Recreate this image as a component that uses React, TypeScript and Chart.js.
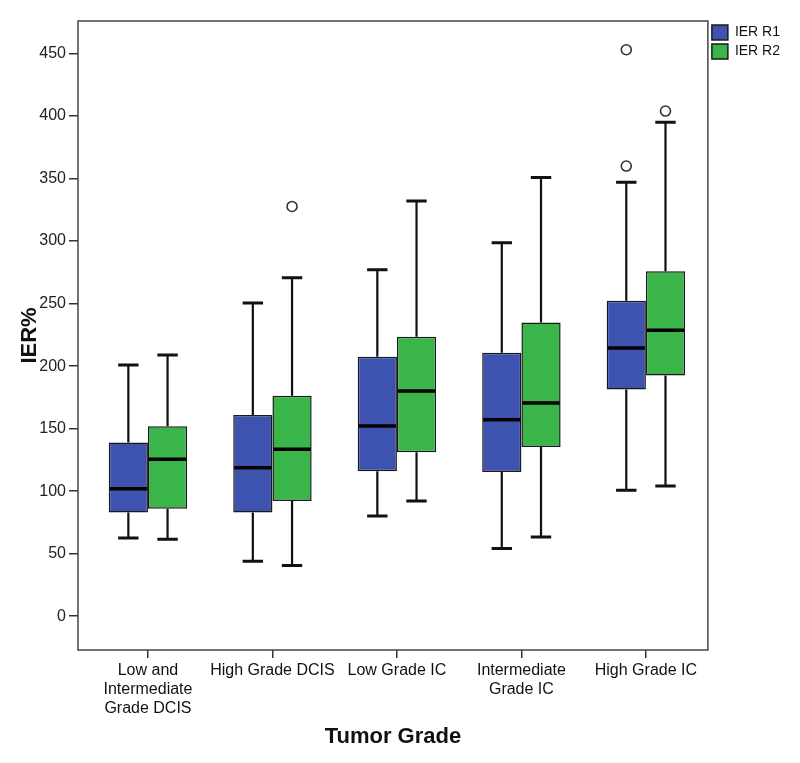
import React, { useEffect, useRef } from 'react';
import { Chart, registerables } from 'chart.js';

Chart.register(...registerables);

// ---------- data ----------
const categories: string[][] = [
  ['Low and', 'Intermediate', 'Grade DCIS'],
  ['High Grade DCIS'],
  ['Low Grade IC'],
  ['Intermediate', 'Grade IC'],
  ['High Grade IC'],
];
const seriesNames = ['IER R1', 'IER R2'];

const r1Min = [62.6, 44, 80.2, 54.1, 100.7];
const r1Q1 = [83, 82.9, 115.9, 115.4, 181.4];
const r1Median = [102, 118.8, 152.1, 157.2, 214.5];
const r1Q3 = [139, 160.9, 207.5, 210.8, 252.3];
const r1Max = [201, 250.4, 277, 298.7, 347];
const r1Outliers: number[][] = [[], [], [], [], [360, 453]];

const r2Min = [61.5, 40.5, 92.2, 63.4, 104.2];
const r2Q1 = [86, 92.2, 131.1, 135.3, 192.6];
const r2Median = [125.5, 133.5, 180.1, 170.5, 228.6];
const r2Q3 = [152, 176.4, 223.5, 234.8, 275.8];
const r2Max = [209, 270.7, 332, 350.9, 395];
const r2Outliers: number[][] = [[], [327.7], [], [], [404]];

const yTicks = [0, 50, 100, 150, 200, 250, 300, 350, 400, 450];
const yTitle = 'IER%';
const xTitle = 'Tumor Grade';

const stats = [
  { min: r1Min, q1: r1Q1, median: r1Median, q3: r1Q3, max: r1Max, outliers: r1Outliers },
  { min: r2Min, q1: r2Q1, median: r2Median, q3: r2Q3, max: r2Max, outliers: r2Outliers },
];

const colors = ['#3E53B0', '#3AB54A'];
const FONT = '"Liberation Sans", Arial, sans-serif';

const boxPlugin = {
  id: 'boxWhiskers',
  beforeDatasetsDraw(chart: any) {
    const { ctx, chartArea } = chart;
    // frame
    ctx.save();
    ctx.strokeStyle = '#444';
    ctx.lineWidth = 1.5;
    ctx.strokeRect(chartArea.left, chartArea.top, chartArea.right - chartArea.left, chartArea.bottom - chartArea.top);
    ctx.restore();
    const yScale = chart.scales.y;
    ctx.save();
    ctx.strokeStyle = '#111';
    chart.data.datasets.forEach((ds: any, di: number) => {
      const meta = chart.getDatasetMeta(di);
      const s = stats[di];
      meta.data.forEach((el: any, i: number) => {
        const { x, width } = el.getProps(['x', 'width'], true);
        const yMin = yScale.getPixelForValue(s.min[i]);
        const yMax = yScale.getPixelForValue(s.max[i]);
        const yQ1 = yScale.getPixelForValue(s.q1[i]);
        const yQ3 = yScale.getPixelForValue(s.q3[i]);
        const cap = width * 0.26;
        ctx.lineWidth = 2.2;
        ctx.beginPath();
        ctx.moveTo(x, yQ3);
        ctx.lineTo(x, yMax);
        ctx.moveTo(x, yQ1);
        ctx.lineTo(x, yMin);
        ctx.stroke();
        ctx.lineWidth = 3;
        ctx.beginPath();
        ctx.moveTo(x - cap, yMax);
        ctx.lineTo(x + cap, yMax);
        ctx.moveTo(x - cap, yMin);
        ctx.lineTo(x + cap, yMin);
        ctx.stroke();
      });
    });
    ctx.restore();
  },
  afterDatasetsDraw(chart: any) {
    const { ctx } = chart;
    const yScale = chart.scales.y;
    ctx.save();
    chart.data.datasets.forEach((ds: any, di: number) => {
      const meta = chart.getDatasetMeta(di);
      const s = stats[di];
      meta.data.forEach((el: any, i: number) => {
        const { x, width } = el.getProps(['x', 'width'], true);
        const yMed = yScale.getPixelForValue(s.median[i]);
        ctx.strokeStyle = '#000';
        ctx.lineWidth = 3.5;
        ctx.beginPath();
        ctx.moveTo(x - width / 2 + 1, yMed);
        ctx.lineTo(x + width / 2 - 1, yMed);
        ctx.stroke();
        s.outliers[i].forEach((v: number) => {
          const yy = yScale.getPixelForValue(v);
          ctx.beginPath();
          ctx.arc(x, yy, 5, 0, Math.PI * 2);
          ctx.fillStyle = '#fff';
          ctx.fill();
          ctx.strokeStyle = '#333';
          ctx.lineWidth = 1.6;
          ctx.stroke();
        });
      });
    });
    ctx.restore();
  },
};

export default function App() {
  const canvasRef = useRef<HTMLCanvasElement | null>(null);

  useEffect(() => {
    document.body.style.margin = '0';
    const canvas = canvasRef.current;
    if (!canvas) return;
    const chart = new Chart(canvas, {
      type: 'bar',
      data: {
        datasets: stats.map((s, di) => ({
          label: seriesNames[di],
          data: s.q1.map((q, i) => ({ x: i, y: [q, s.q3[i]] })),
          backgroundColor: colors[di],
          borderColor: '#1a1a1a',
          borderWidth: 1.5,
          borderSkipped: false,
          categoryPercentage: 0.63,
          barPercentage: 1.0,
        })) as any,
      },
      options: {
        animation: false,
        responsive: true,
        maintainAspectRatio: false,
        layout: { padding: { top: 21, right: 10, bottom: 0, left: 0 } },
        plugins: {
          tooltip: { enabled: false },
          legend: {
            position: 'right',
            align: 'start',
            labels: {
              boxWidth: 16,
              boxHeight: 15,
              padding: 4,
              color: '#111',
              font: { family: FONT, size: 14 },
            },
          },
        },
        scales: {
          x: {
            type: 'linear',
            min: -0.562,
            max: 4.498,
            offset: false,
            afterBuildTicks: (scale: any) => {
              scale.ticks = categories.map((_, i) => ({ value: i }));
            },
            afterFit: (scale: any) => {
              scale.height = 113;
            },
            ticks: {
              autoSkip: false,
              maxRotation: 0,
              minRotation: 0,
              padding: 3,
              color: '#111',
              font: { family: FONT, size: 16 },
              callback: (v: any) => categories[v] ?? '',
            },
            grid: { offset: false, drawOnChartArea: false, drawTicks: true, tickLength: 8, color: '#333', lineWidth: 1.5 },
            border: { display: false },
            title: {
              display: true,
              text: xTitle,
              color: '#111',
              font: { family: FONT, size: 22, weight: 'bold' },
              padding: { top: 0, bottom: 13 },
            },
          },
          y: {
            type: 'linear',
            min: -27,
            max: 476,
            afterBuildTicks: (scale: any) => {
              scale.ticks = yTicks.map((v) => ({ value: v }));
            },
            afterFit: (scale: any) => {
              scale.width = 78;
            },
            ticks: {
              padding: 3,
              color: '#222',
              font: { family: FONT, size: 16 },
            },
            grid: { drawOnChartArea: false, drawTicks: true, tickLength: 9, color: '#333', lineWidth: 1.5 },
            border: { display: false },
            title: {
              display: true,
              text: yTitle,
              color: '#111',
              font: { family: FONT, size: 22, weight: 'bold' },
              padding: { top: 17, bottom: 0 },
            },
          },
        },
      },
      plugins: [boxPlugin],
    });
    return () => chart.destroy();
  }, []);

  return (
    <div style={{ width: 800, height: 763, position: 'relative', background: '#fff' }}>
      <canvas ref={canvasRef} />
    </div>
  );
}
